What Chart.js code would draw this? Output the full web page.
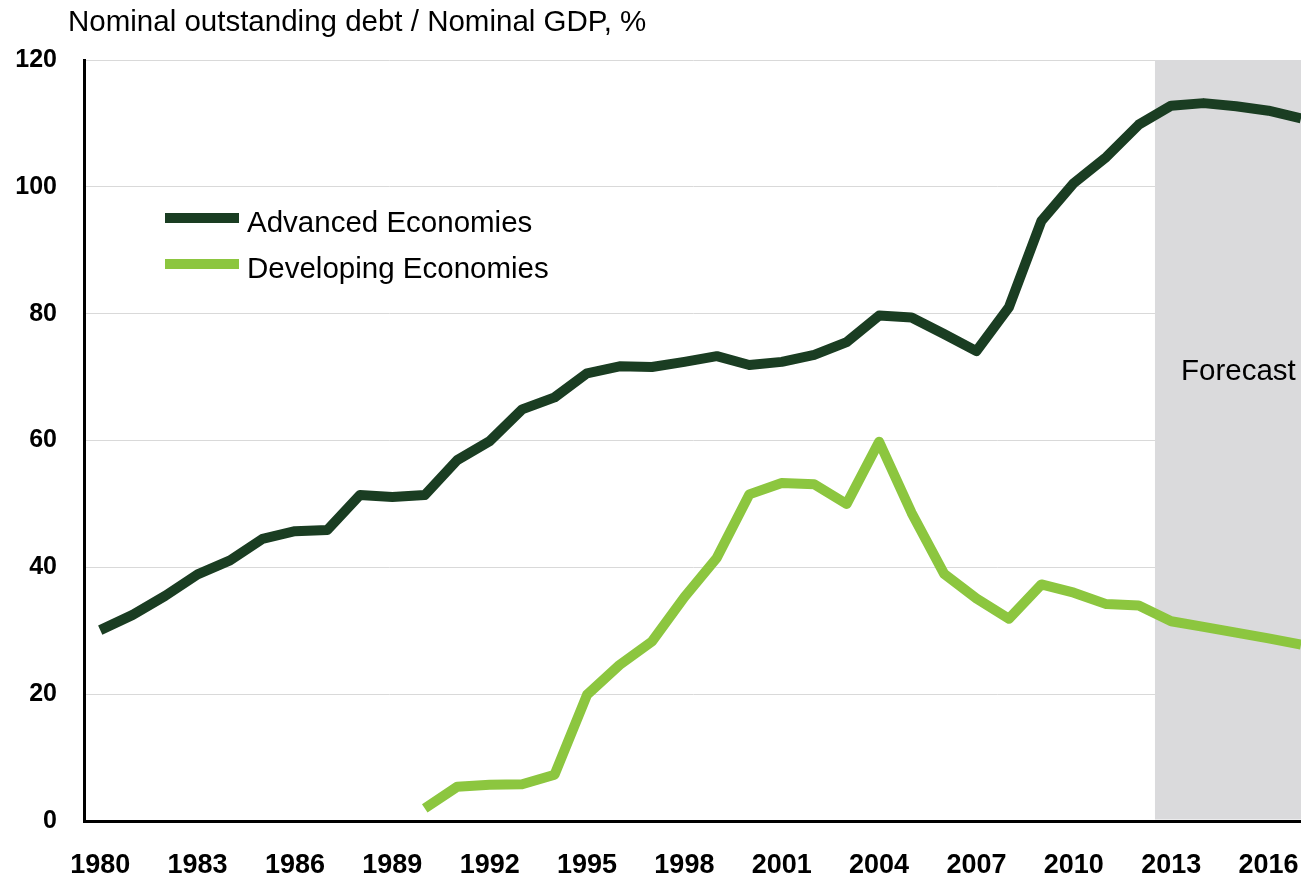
<!DOCTYPE html>
<html>
<head>
<meta charset="utf-8">
<script src="https://cdn.jsdelivr.net/npm/chart.js@4.4.1/dist/chart.umd.min.js"></script>
<style>
  body { margin: 0; background: #fff; }
  canvas { display: block; }
</style>
</head>
<body>
<canvas id="debt_chart" width="1301" height="880"></canvas>
<script>
const years = [
  1980, 1981, 1982, 1983, 1984, 1985, 1986, 1987, 1988, 1989,
  1990, 1991, 1992, 1993, 1994, 1995, 1996, 1997, 1998, 1999,
  2000, 2001, 2002, 2003, 2004, 2005, 2006, 2007, 2008, 2009,
  2010, 2011, 2012, 2013, 2014, 2015, 2016, 2017,
];
const advanced = [
  30.1, 32.5, 35.5, 38.9, 41.1, 44.5, 45.7, 45.9, 51.4, 51.1,
  51.4, 56.9, 59.9, 64.9, 66.8, 70.6, 71.7, 71.6, 72.4, 73.3,
  71.9, 72.4, 73.5, 75.5, 79.7, 79.4, 76.8, 74.1, 81.0, 94.6,
  100.6, 104.7, 109.8, 112.8, 113.2, 112.7, 112.0, 110.8,
];
// no series before 1990
const developing = [
  null, null, null, null, null, null, null, null, null, null,
  2.0, 5.4, 5.7, 5.8, 7.3, 19.9, 24.6, 28.3, 35.3, 41.5,
  51.5, 53.3, 53.1, 50.0, 59.8, 48.6, 39.0, 35.1, 31.9, 37.3,
  36.0, 34.2, 34.0, 31.5, 30.6, 29.7, 28.8, 27.8,
];
const xTicks = [1980, 1983, 1986, 1989, 1992, 1995, 1998, 2001, 2004, 2007, 2010, 2013, 2016];
const yTicks = [0, 20, 40, 60, 80, 100, 120];
const forecastFrom = 2012.5;

const FONT = '"Liberation Sans", Arial, sans-serif';
const darkGreen = "#1a3d22";
const lightGreen = "#8cc63f";

const toPoints = (values) =>
  years.map((yr, i) => ({ x: yr, y: values[i] }));

// title, legend and the forecast band are drawn by hand
const extras = {
  id: "extras",
  beforeDatasetsDraw(chart) {
    const { ctx, chartArea, scales } = chart;
    const x0 = scales.x.getPixelForValue(forecastFrom);
    ctx.save();
    ctx.fillStyle = "#dadadc";
    ctx.fillRect(x0, chartArea.top, chartArea.right - x0, chartArea.bottom - chartArea.top - 1.5);
    ctx.restore();
  },
  afterDatasetsDraw(chart) {
    const { ctx } = chart;
    ctx.save();
    ctx.fillStyle = "#000";
    ctx.textBaseline = "alphabetic";
    ctx.font = "29.5px " + FONT;
    ctx.fillText("Nominal outstanding debt / Nominal GDP, %", 68, 31);

    ctx.fillText("Forecast", 1181, 380);

    chart.data.datasets.forEach((ds, i) => {
      const y = 218 + i * 46;
      ctx.fillStyle = ds.borderColor;
      ctx.fillRect(165, y - 5, 74, 10);
      ctx.fillStyle = "#000";
      ctx.fillText(ds.label, 247, y + 14);
    });
    ctx.restore();
  },
};

const canvas = document.querySelector("#debt_chart").getContext("2d");
const debtChart = new Chart(canvas, {
  type: "line",
  data: {
    datasets: [
      {
        label: "Advanced Economies",
        data: toPoints(advanced),
        borderColor: darkGreen,
        borderWidth: 10,
        borderJoinStyle: "round",
        pointRadius: 0,
        tension: 0,
      },
      {
        label: "Developing Economies",
        data: toPoints(developing),
        borderColor: lightGreen,
        borderWidth: 10,
        borderJoinStyle: "round",
        pointRadius: 0,
        tension: 0,
        spanGaps: false,
      },
    ],
  },
  options: {
    responsive: false,
    animation: false,
    layout: { padding: { top: 60, right: 0, left: 0, bottom: 0 } },
    plugins: {
      legend: { display: false },
      tooltip: { enabled: false },
    },
    scales: {
      x: {
        type: "linear",
        min: 1979.5,
        max: 2017,
        afterBuildTicks: (scale) => {
          scale.ticks = xTicks.map((v) => ({ value: v }));
        },
        afterFit: (scale) => {
          scale.height = 59;
          // labels fit inside the canvas, keep the plot flush right
          scale.paddingLeft = 0;
          scale.paddingRight = 0;
        },
        grid: { display: false, drawTicks: false },
        border: { display: true, color: "#000", width: 3 },
        ticks: {
          padding: 28,
          color: "#000",
          font: { family: FONT, size: 27, weight: "bold" },
          maxRotation: 0,
          autoSkip: false,
          callback: (v) => String(v),
        },
      },
      y: {
        min: 0,
        max: 120,
        afterBuildTicks: (scale) => {
          scale.ticks = yTicks.map((v) => ({ value: v }));
        },
        afterFit: (scale) => {
          scale.width = 84;
          scale.paddingTop = 0;
          scale.paddingBottom = 0;
        },
        grid: { color: "#d9d9d9", lineWidth: 1, drawTicks: false },
        border: { display: true, color: "#000", width: 3 },
        ticks: {
          padding: 27,
          color: "#000",
          font: { family: FONT, size: 25, weight: "bold" },
        },
      },
    },
  },
  plugins: [extras],
});
</script>
</body>
</html>
